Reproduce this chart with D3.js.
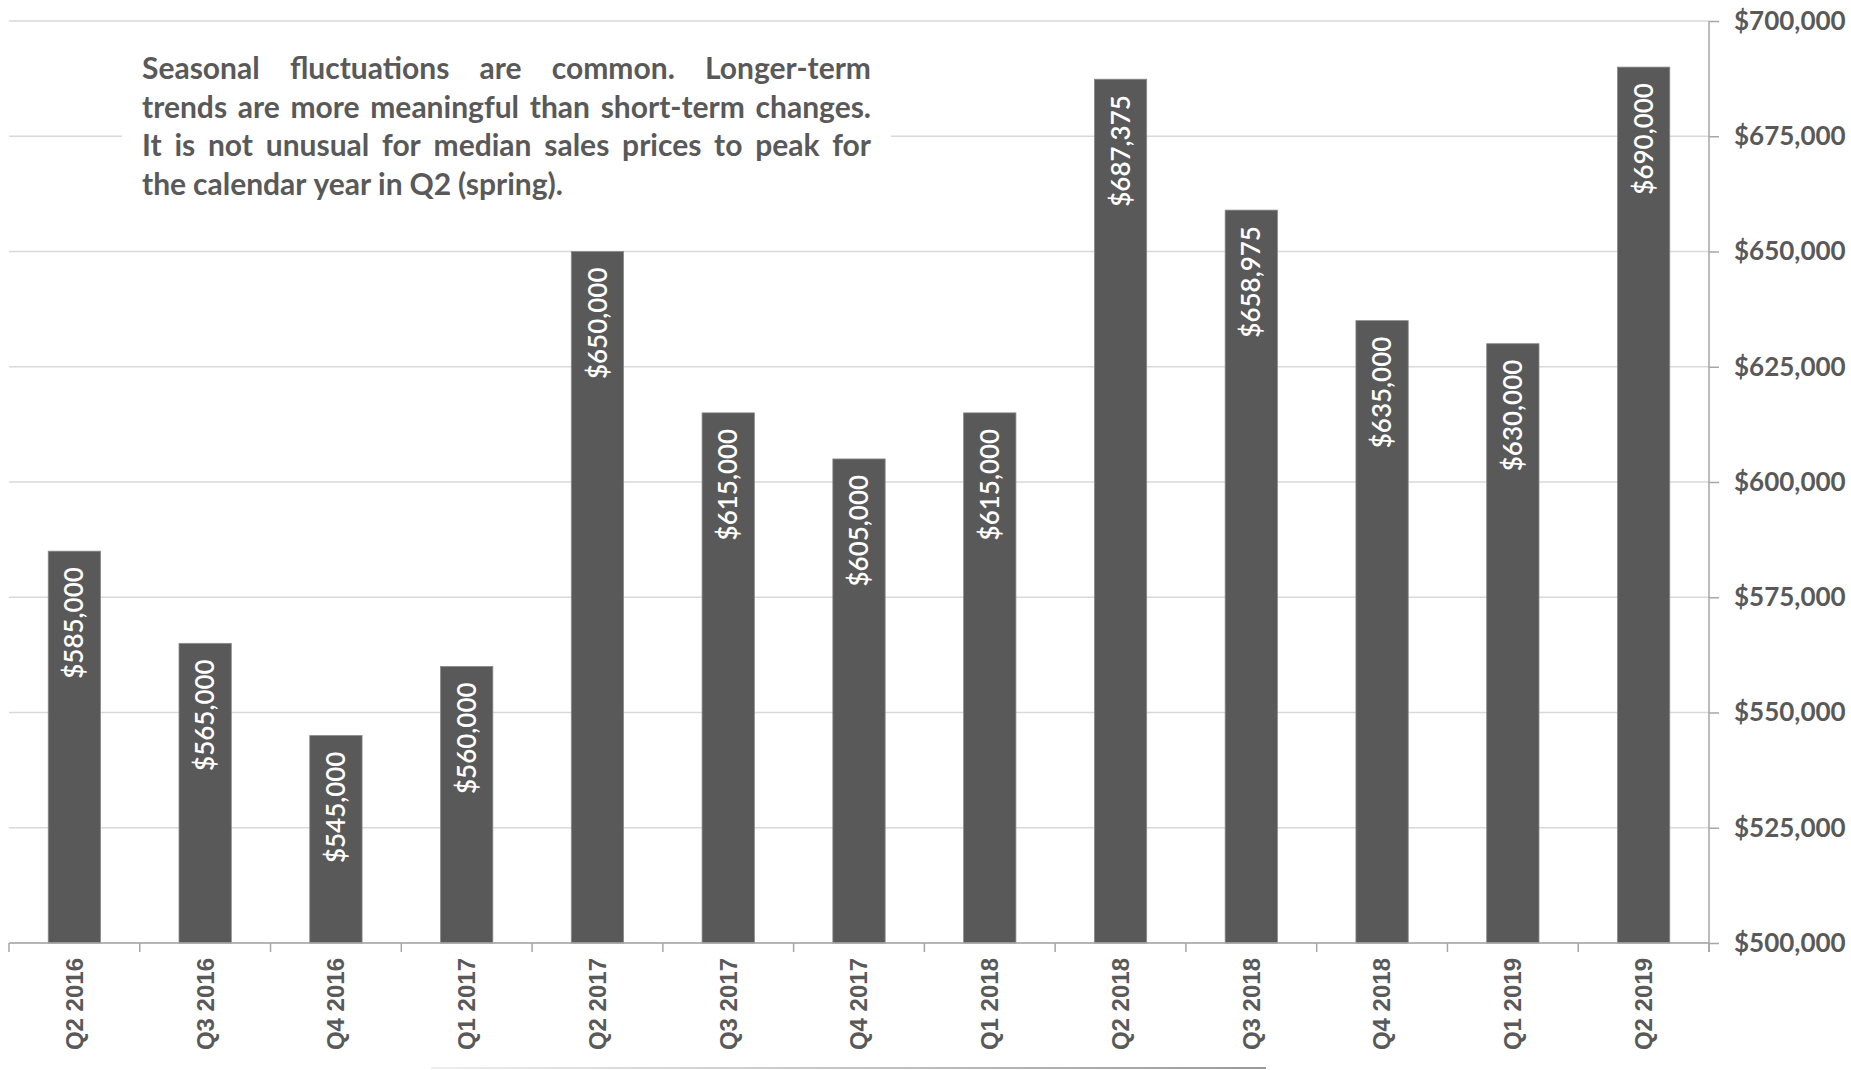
<!DOCTYPE html>
<html>
<head>
<meta charset="utf-8">
<script src="https://cdn.jsdelivr.net/npm/d3@7"></script>
<style>
  body { margin: 0; background: #fff; }
  svg { display: block; }
</style>
</head>
<body>
<div id="chart"></div>
<script>
// quarterly median sales price
const quarters = ['Q2 2016', 'Q3 2016', 'Q4 2016', 'Q1 2017', 'Q2 2017', 'Q3 2017', 'Q4 2017',
  'Q1 2018', 'Q2 2018', 'Q3 2018', 'Q4 2018', 'Q1 2019', 'Q2 2019'];
const prices = [585000, 565000, 545000, 560000, 650000, 615000, 605000,
  615000, 687375, 658975, 635000, 630000, 690000];
const yTicks = [500000, 525000, 550000, 575000, 600000, 625000, 650000, 675000, 700000];
const noteLines = [
  'Seasonal fluctuations are common. Longer-term',
  'trends are more meaningful than short-term changes.',
  'It is not unusual for median sales prices to peak for',
  'the calendar year in Q2 (spring).'
];

const width = 1851, height = 1070;
const margin = {top: 21, right: 142, bottom: 127, left: 9};
const plotRight = width - margin.right;
const plotBottom = height - margin.bottom;

const textColor = '#595959';
const barColor = '#595959';
const gridColor = '#d9d9d9';
const axisColor = '#a6a6a6';

const svg = d3.select('#chart').append('svg')
  .attr('width', width)
  .attr('height', height);

const x = d3.scaleBand()
  .domain(quarters)
  .range([margin.left, plotRight])
  .paddingInner(0.6)
  .paddingOuter(0.3);

const y = d3.scaleLinear()
  .domain([500000, 700000])
  .range([plotBottom, margin.top]);

// gridlines
svg.append('g')
  .selectAll('line')
  .data(yTicks)
  .join('line')
  .attr('x1', margin.left)
  .attr('x2', plotRight)
  .attr('y1', d => y(d))
  .attr('y2', d => y(d))
  .attr('stroke', gridColor)
  .attr('stroke-width', 1.5);

// note box, sits over the gridlines
const note = svg.append('g').attr('class', 'note');
note.append('rect')
  .attr('x', 122)
  .attr('y', 32)
  .attr('width', 769)
  .attr('height', 168)
  .attr('fill', '#fff');

const noteLeft = 142, noteWidth = 729;
const noteFont = {family: 'Lato, "Open Sans", sans-serif', weight: 700};

// work out a font size so the longest line fills the box
const probe = svg.append('text')
  .attr('font-family', noteFont.family)
  .attr('font-weight', noteFont.weight)
  .attr('font-size', 100)
  .text(noteLines[1]);
const probeWidth = probe.node().getComputedTextLength();
probe.remove();
const noteSize = Math.min(30, 100 * noteWidth / probeWidth);

noteLines.forEach((line, i) => {
  const words = line.split(' ');
  const baseline = 79 + i * 38.5;
  const g = note.append('g');
  const texts = words.map(w => g.append('text')
    .attr('font-family', noteFont.family)
    .attr('font-weight', noteFont.weight)
    .attr('font-size', noteSize)
    .attr('fill', textColor)
    .attr('y', baseline)
    .text(w));
  const widths = texts.map(t => t.node().getComputedTextLength());
  const total = d3.sum(widths);
  const last = i === noteLines.length - 1;
  const gap = last ? noteSize * 0.23 : (noteWidth - total) / (words.length - 1);
  let cx = noteLeft;
  texts.forEach((t, k) => {
    t.attr('x', cx);
    cx += widths[k] + gap;
  });
});

// bars
svg.append('g')
  .selectAll('rect')
  .data(prices)
  .join('rect')
  .attr('x', (d, i) => x(quarters[i]))
  .attr('y', d => y(d))
  .attr('width', x.bandwidth())
  .attr('height', d => plotBottom - y(d))
  .attr('fill', barColor)
  .attr('stroke', '#8a8a8a')
  .attr('stroke-width', 0.8);

// value labels inside bar tops
svg.append('g')
  .selectAll('text')
  .data(prices)
  .join('text')
  .attr('transform', (d, i) => `translate(${x(quarters[i]) + x.bandwidth() / 2}, ${y(d) + 16}) rotate(-90)`)
  .attr('text-anchor', 'end')
  .attr('dy', '0.35em')
  .attr('font-family', 'Lato, "Open Sans", sans-serif')
  .attr('font-weight', 600)
  .attr('font-size', 26)
  .attr('fill', '#fff')
  .text(d => d3.format('$,')(d));

// right value axis
const yAxis = svg.append('g')
  .attr('transform', `translate(${plotRight}, 0)`)
  .call(d3.axisRight(y).tickValues(yTicks).tickSize(10).tickPadding(15).tickFormat(d3.format('$,')));
yAxis.select('.domain').remove();
yAxis.append('line')
  .attr('y1', margin.top)
  .attr('y2', plotBottom + 9)
  .attr('stroke', axisColor)
  .attr('stroke-width', 1.5);
yAxis.selectAll('.tick line').attr('stroke', axisColor).attr('stroke-width', 1.5);
yAxis.selectAll('.tick text')
  .attr('fill', textColor)
  .attr('font-family', 'Lato, "Open Sans", sans-serif')
  .attr('font-weight', 700)
  .attr('font-size', 26);

// category axis
const xAxis = svg.append('g');
xAxis.append('line')
  .attr('x1', margin.left)
  .attr('x2', plotRight)
  .attr('y1', plotBottom)
  .attr('y2', plotBottom)
  .attr('stroke', axisColor)
  .attr('stroke-width', 1.5);
const step = x.step();
xAxis.selectAll('.cat-tick')
  .data(d3.range(quarters.length + 1))
  .join('line')
  .attr('class', 'cat-tick')
  .attr('x1', i => margin.left + i * step)
  .attr('x2', i => margin.left + i * step)
  .attr('y1', plotBottom)
  .attr('y2', plotBottom + 9)
  .attr('stroke', axisColor)
  .attr('stroke-width', 1.5);
xAxis.selectAll('.cat-label')
  .data(quarters)
  .join('text')
  .attr('class', 'cat-label')
  .attr('transform', d => `translate(${x(d) + x.bandwidth() / 2}, ${plotBottom + 15}) rotate(-90)`)
  .attr('text-anchor', 'end')
  .attr('dy', '0.35em')
  .attr('font-family', '"Liberation Sans", Arial, sans-serif')
  .attr('font-weight', 700)
  .attr('font-size', 24)
  .attr('fill', textColor)
  .text(d => d);

// faint rule under the chart
const grad = svg.append('defs').append('linearGradient')
  .attr('id', 'rule');
grad.append('stop').attr('offset', '0%').attr('stop-color', '#eeeeee');
grad.append('stop').attr('offset', '100%').attr('stop-color', '#9a9a9a');
svg.append('rect')
  .attr('x', 431)
  .attr('y', 1067)
  .attr('width', 835)
  .attr('height', 2)
  .attr('fill', 'url(#rule)');
</script>
</body>
</html>
